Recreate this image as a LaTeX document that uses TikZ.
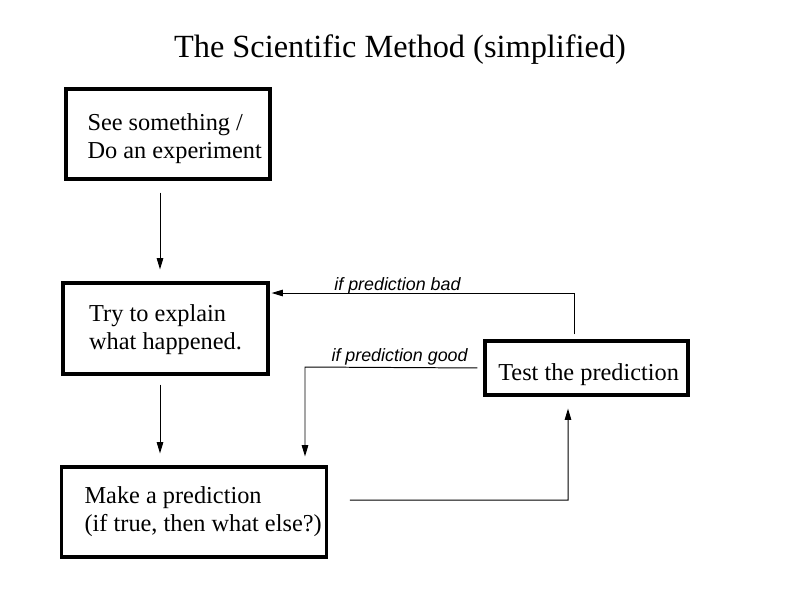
\documentclass[tikz,border=0pt]{standalone}
\usepackage{fontspec}
\setmainfont{Liberation Serif}
\newfontfamily\labfont{Liberation Sans}
\usetikzlibrary{arrows.meta}
% text lines of a box, nudged right by half of #1 and down by #2
\newcommand{\boxlines}[3]{\raisebox{-#2}[\height][\depth]{\begin{tabular}{@{\hspace{#1}}l@{}}#3\end{tabular}}}
\begin{document}
\begin{tikzpicture}[x=0.025cm,y=-0.025cm,
    box/.style={draw,line width=2.2pt,font=\fontsize{17.3}{19.5}\selectfont},
    arr/.style={line width=0.7pt,-{Triangle[length=8pt,width=4.6pt]}},
    lab/.style={font=\labfont\itshape\fontsize{12.7}{15}\selectfont,inner sep=0pt,yshift=-1.5pt}]
    \useasboundingbox (0,0) rectangle (800,600);
    \node (title) at (400,50) {\fontsize{23}{27}\selectfont The Scientific Method (simplified)};
    \node[box,minimum width=5.1cm,minimum height=2.25cm] (see) at (168,134)
        {\boxlines{9.5pt}{3.5pt}{See something /\\Do an experiment}};
    \node[box,minimum width=5.125cm,minimum height=2.275cm] (explain) at (165.5,328.5)
        {\boxlines{0pt}{1pt}{Try to explain\\what happened.}};
    \node[box,minimum width=6.55cm,minimum height=2.25cm] (predict) at (194,512)
        {\boxlines{13pt}{0pt}{Make a prediction\\(if true, then what else?)}};
    \node[box,minimum width=5.075cm,minimum height=1.35cm] (test) at (586.5,368)
        {\boxlines{3pt}{5pt}{Test the prediction}};
    \coordinate (down) at (160,0);
    \coordinate (bad) at (574,293);
    \coordinate (good) at (305,367);
    \coordinate (up) at (568,500);
    \draw[arr,shorten <=0.3cm,shorten >=0.3cm] (see.south -| down) -- (explain.north -| down);
    \draw[arr,shorten <=0.225cm,shorten >=0.3cm] (explain.south -| down) -- (predict.north -| down);
    \draw[arr,shorten <=0.125cm,shorten >=0.05cm] (test.north -| bad) -- (bad)
        -- node[lab,above,pos=0.58] {if prediction bad} (explain.east |- bad);
    \draw[arr,shorten <=0.15cm,shorten >=0.225cm] (test.west) -- node[lab,above,pos=0.47,yshift=3pt] {if prediction good} (good)
        -- (predict.north -| good);
    \draw[arr,shorten <=0.55cm,shorten >=0.3cm] ([yshift=0.3cm]predict.east) -- (up) -- (test.south -| up);
\end{tikzpicture}
\end{document}
